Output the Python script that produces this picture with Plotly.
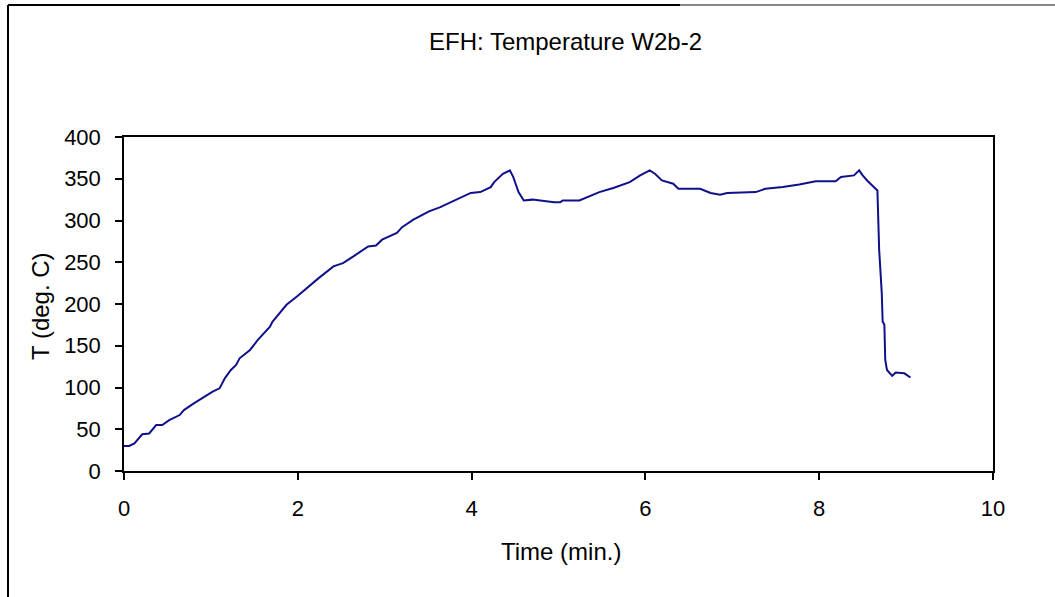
import plotly.graph_objects as go

# Data
time_min = [0, 0.06, 0.12, 0.21, 0.29, 0.37, 0.44, 0.52, 0.64, 0.69, 0.79, 0.87, 0.95,
            1.02, 1.10, 1.16, 1.23, 1.29, 1.33, 1.45, 1.54, 1.68, 1.71, 1.87, 1.99,
            2.08, 2.24, 2.41, 2.52, 2.64, 2.81, 2.90, 2.97, 3.14, 3.20, 3.33, 3.51,
            3.64, 3.80, 3.99, 4.10, 4.22, 4.26, 4.36, 4.44, 4.48, 4.54, 4.60, 4.70,
            4.78, 4.95, 5.02, 5.05, 5.24, 5.36, 5.47, 5.63, 5.82, 5.94, 6.05, 6.11,
            6.19, 6.32, 6.38, 6.63, 6.75, 6.86, 6.94, 7.27, 7.38, 7.58, 7.77, 7.96,
            8.19, 8.25, 8.40, 8.46, 8.50, 8.56, 8.67, 8.69, 8.72, 8.73, 8.75, 8.76,
            8.78, 8.84, 8.88, 8.98, 9.05]
temp_c = [30, 30, 33, 44, 45, 55, 55, 61, 67, 73, 80, 85, 91,
          95, 99, 111, 121, 127, 135, 145, 157, 173, 179, 199, 209,
          217, 231, 245, 249, 257, 269, 270, 277, 285, 292, 301, 311,
          316, 324, 333, 334, 340, 346, 356, 360, 352, 334, 324, 325,
          324, 322, 322, 324, 324, 329, 334, 339, 346, 354, 360, 356,
          348, 344, 338, 338, 333, 331, 333, 334, 338, 340, 343, 347,
          347, 352, 354, 360, 354, 347, 336, 265, 213, 179, 175, 133,
          121, 114, 118, 117, 112]

x_ticks = [0, 2, 4, 6, 8, 10]
y_ticks = [0, 50, 100, 150, 200, 250, 300, 350, 400]

title_text = "EFH: Temperature W2b-2"
x_title = "Time (min.)"
y_title = "T (deg. C)"

W, H = 1055, 597
ML, MR, MT, MB = 124, 62, 137, 126
PW, PH = W - ML - MR, H - MT - MB
FONT = "Liberation Sans, Arial, sans-serif"

def px_x(p):
    return (p - ML) / PW

def px_y(p):
    return (H - MB - p) / PH

fig = go.Figure()
fig.add_trace(go.Scatter(x=time_min, y=temp_c, mode="lines",
                         line=dict(color="#10108a", width=2), showlegend=False))

axis_common = dict(showline=True, linecolor="black", linewidth=1.5, mirror=True,
                   ticks="outside", ticklen=7, tickwidth=1.5, tickcolor="black",
                   showgrid=False, zeroline=False,
                   tickfont=dict(family=FONT, size=22, color="black"))

fig.update_xaxes(range=[0, 10], tickvals=x_ticks, ticklabelstandoff=10, **axis_common)
fig.update_yaxes(range=[0, 400], tickvals=y_ticks, ticklabelstandoff=10, **axis_common)

fig.update_layout(
    width=W, height=H,
    margin=dict(l=ML, r=MR, t=MT, b=MB, autoexpand=False),
    paper_bgcolor="white", plot_bgcolor="white",
    title=dict(text=title_text, x=536 / W, xanchor="center", xref="paper",
               y=1 - 42 / H, yanchor="middle", yref="container",
               font=dict(family=FONT, size=24, color="black")),
    annotations=[
        dict(text=x_title, xref="paper", yref="paper", x=px_x(561), y=px_y(551),
             xanchor="center", yanchor="middle", showarrow=False,
             font=dict(family=FONT, size=24, color="black")),
        dict(text=y_title, xref="paper", yref="paper", x=px_x(40), y=px_y(306),
             xanchor="center", yanchor="middle", showarrow=False, textangle=-90,
             font=dict(family=FONT, size=24, color="black")),
    ],
    shapes=[
        dict(type="line", xref="paper", yref="paper",
             x0=px_x(8), x1=px_x(8), y0=px_y(5), y1=px_y(H),
             line=dict(color="black", width=2)),
        dict(type="line", xref="paper", yref="paper",
             x0=px_x(8), x1=px_x(680), y0=px_y(5), y1=px_y(5),
             line=dict(color="black", width=2)),
        dict(type="line", xref="paper", yref="paper",
             x0=px_x(680), x1=px_x(W), y0=px_y(5), y1=px_y(5),
             line=dict(color="#888888", width=2)),
    ],
)

fig.write_html("out.html", config={"displayModeBar": False},
               post_script="document.body.style.margin='0';document.body.style.overflow='hidden';")
